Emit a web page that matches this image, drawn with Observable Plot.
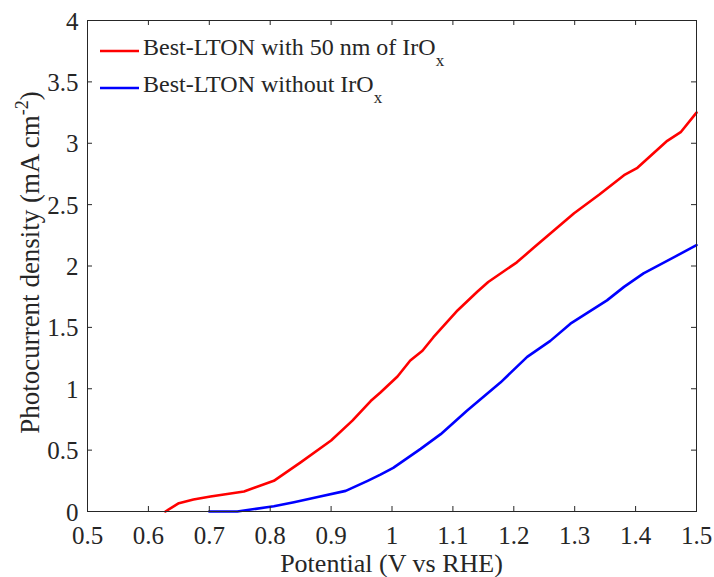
<!DOCTYPE html>
<html>
<head>
<meta charset="utf-8">
<script src="https://cdn.jsdelivr.net/npm/d3@7"></script>
<script src="https://cdn.jsdelivr.net/npm/@observablehq/plot@0.6"></script>
<style>
  html, body { margin: 0; padding: 0; background: #fff; }
  svg text, svg tspan { font-family: 'Liberation Serif', 'Times New Roman', serif !important; }
</style>
</head>
<body>
<div id="chart"></div>
<script>
// Tick values
const xTicks = [0.5, 0.6, 0.7, 0.8, 0.9, 1.0, 1.1, 1.2, 1.3, 1.4, 1.5];
const yTicks = [0, 0.5, 1, 1.5, 2, 2.5, 3, 3.5, 4];

// Series: Best-LTON with 50 nm of IrOx
const redV = [0.628, 0.65, 0.674, 0.702, 0.757, 0.806, 0.85, 0.9, 0.935, 0.965, 0.981, 1.009, 1.03, 1.05, 1.068, 1.108, 1.14, 1.158, 1.205, 1.233, 1.299, 1.34, 1.381, 1.403, 1.452, 1.474, 1.5];
const redJ = [0, 0.068, 0.098, 0.122, 0.163, 0.25, 0.40, 0.578, 0.74, 0.90, 0.97, 1.10, 1.23, 1.31, 1.42, 1.64, 1.79, 1.87, 2.03, 2.15, 2.43, 2.58, 2.74, 2.80, 3.02, 3.09, 3.25];

// Series: Best-LTON without IrOx
const blueV = [0.7, 0.746, 0.806, 0.839, 0.88, 0.924, 0.96, 0.981, 1.002, 1.047, 1.08, 1.123, 1.178, 1.222, 1.26, 1.293, 1.353, 1.381, 1.413, 1.474, 1.5];
const blueJ = [0, 0, 0.043, 0.076, 0.12, 0.168, 0.25, 0.30, 0.355, 0.51, 0.63, 0.82, 1.05, 1.26, 1.39, 1.53, 1.72, 1.83, 1.94, 2.10, 2.17];

const seriesNames = ["Best-LTON with 50 nm of IrO", "Best-LTON without IrO"];
const seriesSub = "x";
const seriesColors = ["#ff0000", "#0000ff"];

const red = redV.map((v, i) => ({v, j: redJ[i]}));
const blue = blueV.map((v, i) => ({v, j: blueJ[i]}));

const W = 714, H = 577;
const mL = 87, mR = 18, mT = 20, mB = 66;
const pw = W - mL - mR, ph = H - mT - mB;
const tick = 5;
const ink = "#262626";
const fmt = d3.format("~g");
const font = "'Liberation Serif', 'Times New Roman', serif";
const fs = 25;

const chart = Plot.plot({
  width: W,
  height: H,
  marginLeft: mL,
  marginRight: mR,
  marginTop: mT,
  marginBottom: mB,
  style: {fontFamily: font, fontSize: fs + "px", color: ink, background: "#fff"},
  x: {domain: [0.5, 1.5]},
  y: {domain: [0, 4]},
  marks: [
    Plot.line(red, {x: "v", y: "j", stroke: seriesColors[0], strokeWidth: 2.6}),
    Plot.line(blue, {x: "v", y: "j", stroke: seriesColors[1], strokeWidth: 2.6}),
    Plot.frame({stroke: ink, strokeWidth: 1}),
    Plot.tickX(xTicks, {x: d => d, insetTop: ph - tick, stroke: ink}),
    Plot.tickX(xTicks, {x: d => d, insetBottom: ph - tick, stroke: ink}),
    Plot.tickY(yTicks, {y: d => d, insetRight: pw - tick, stroke: ink}),
    Plot.tickY(yTicks, {y: d => d, insetLeft: pw - tick, stroke: ink}),
    Plot.axisX(xTicks, {tickSize: 0, tickPadding: 15, tickFormat: fmt, label: null, fontSize: fs, fill: ink}),
    Plot.axisY(yTicks, {tickSize: 0, tickPadding: 9, tickFormat: fmt, label: null, fontSize: fs, fill: ink, dy: 1})
  ]
});

document.getElementById("chart").appendChild(chart);

const svg = d3.select(chart);
svg.attr("font-family", font);

// Legend
const leg = svg.append("g").attr("text-anchor", "start");
const legRows = [51, 88];
seriesNames.forEach((name, i) => {
  const y = legRows[i];
  leg.append("line")
    .attr("x1", 100).attr("x2", 139).attr("y1", y).attr("y2", y)
    .attr("stroke", seriesColors[i]).attr("stroke-width", 2.6);
  const t = leg.append("text")
    .attr("x", 143).attr("y", y + 4)
    .attr("text-anchor", "start")
    .attr("font-size", 24).attr("fill", ink);
  t.append("tspan").text(name);
  t.append("tspan").attr("dy", 11).attr("font-size", 17).text(seriesSub);
});

// X axis title
svg.append("text")
  .attr("x", mL + pw / 2).attr("y", 572)
  .attr("text-anchor", "middle")
  .attr("font-size", 26).attr("fill", ink)
  .text("Potential (V vs RHE)");

// Y axis title
const yt = svg.append("text")
  .attr("transform", `translate(39,${mT + ph / 2 - 3}) rotate(-90)`)
  .attr("text-anchor", "middle")
  .attr("font-size", 27).attr("fill", ink);
yt.append("tspan").text("Photocurrent density (mA cm");
yt.append("tspan").attr("dy", -11).attr("font-size", 18).text("-2");
yt.append("tspan").attr("dy", 11).text(")");
</script>
</body>
</html>
